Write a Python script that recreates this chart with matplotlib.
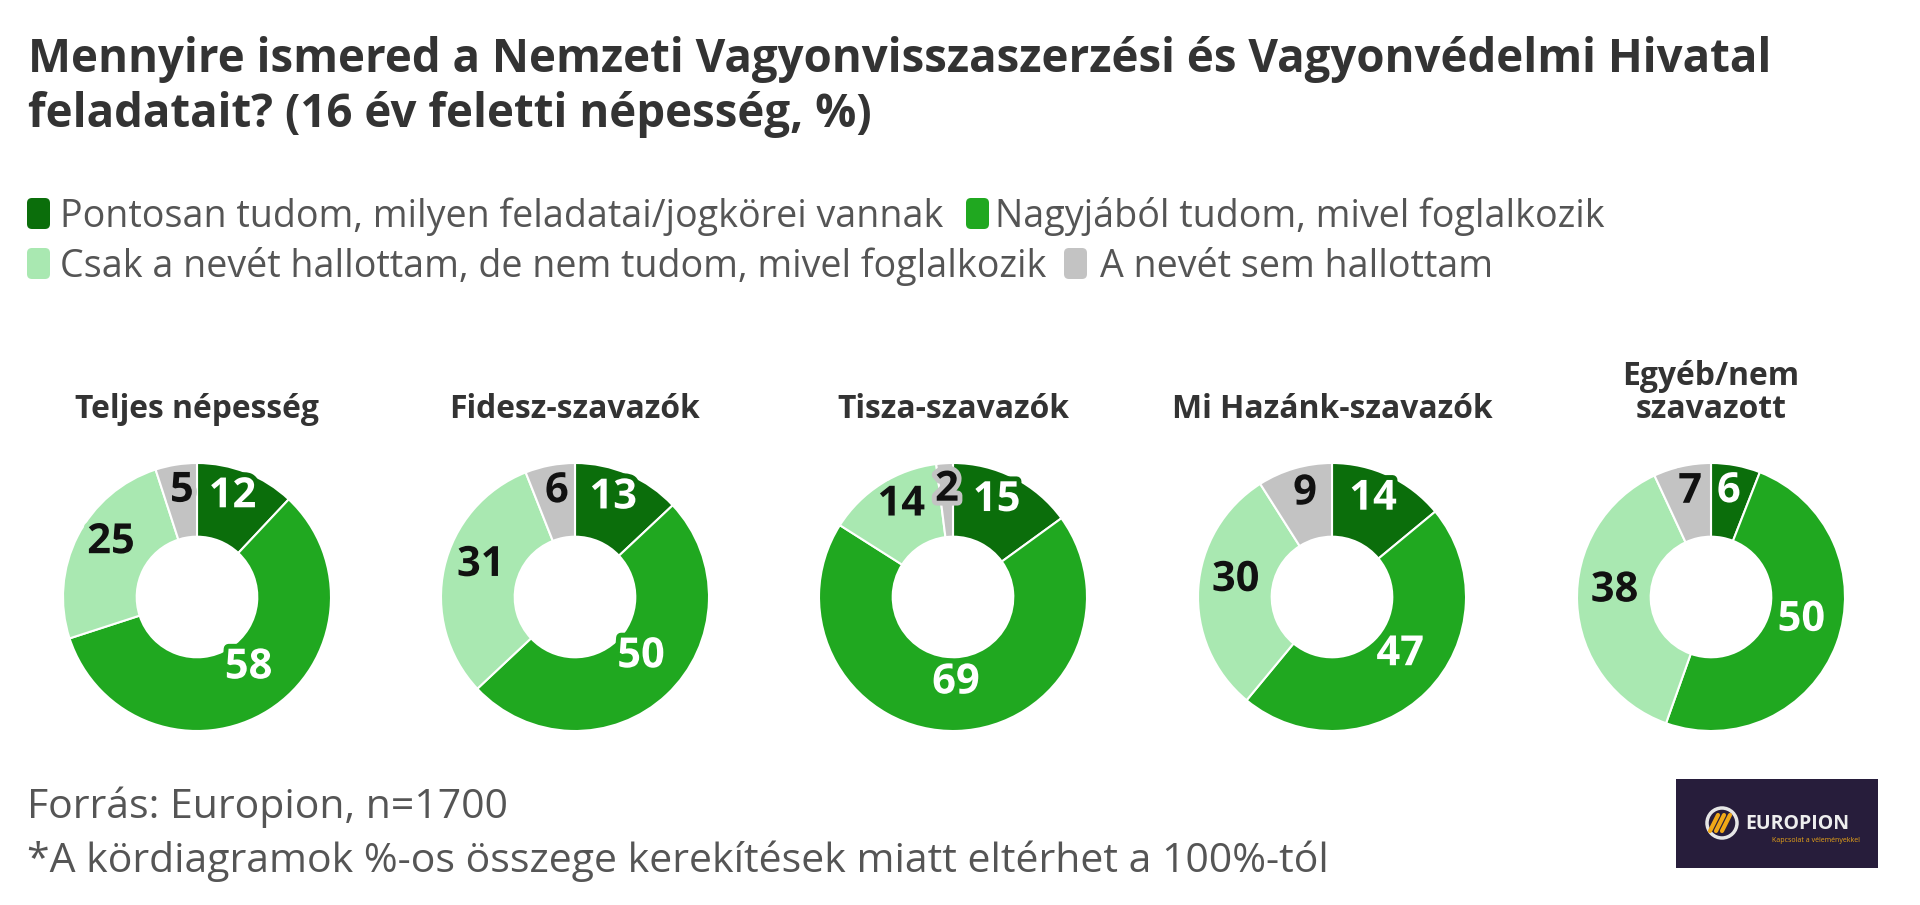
import matplotlib
matplotlib.use("Agg")
import numpy as np
import matplotlib.pyplot as plt
import matplotlib.patheffects as pe
from matplotlib.patches import FancyBboxPatch, Circle, Rectangle

# data
groups = ["Teljes népesség", "Fidesz-szavazók", "Tisza-szavazók",
          "Mi Hazánk-szavazók", "Egyéb/nem\nszavazott"]
categories = ["Pontosan tudom, milyen feladatai/jogkörei vannak",
              "Nagyjából tudom, mivel foglalkozik",
              "Csak a nevét hallottam, de nem tudom, mivel foglalkozik",
              "A nevét sem hallottam"]
pontosan = [12, 13, 15, 14, 6]
nagyjabol = [58, 50, 69, 47, 50]
csak_nevet = [25, 31, 14, 30, 38]
nem_hallotta = [5, 6, 2, 9, 7]

colors = ["#0b6e0b", "#20a820", "#a9e8b1", "#c3c3c3"]
label_colors = ["white", "white", "#111111", "#111111"]

title1 = "Mennyire ismered a Nemzeti Vagyonvisszaszerzési és Vagyonvédelmi Hivatal"
title2 = "feladatait? (16 év feletti népesség, %)"
source = "Forrás: Europion, n=1700"
note = "*A kördiagramok %-os összege kerekítések miatt eltérhet a 100%-tól"

W, H = 1920, 905
plt.rcParams["font.family"] = ["Open Sans", "DejaVu Sans"]

fig = plt.figure(figsize=(W / 100, H / 100), dpi=100)
fig.patch.set_facecolor("white")
ax0 = fig.add_axes([0, 0, 1, 1])
ax0.set_xlim(0, W)
ax0.set_ylim(H, 0)
ax0.axis("off")
renderer = fig.canvas.get_renderer()


def fit_width(t, target):
    w = t.get_window_extent(renderer=renderer).width
    t.set_fontsize(t.get_fontsize() * target / w)
    return t.get_fontsize()


# title
t1 = ax0.text(28, 72, title1, fontsize=30, fontweight="bold", color="#333333", va="baseline")
fs = fit_width(t1, 1744)
ax0.text(28, 127, title2, fontsize=fs, fontweight="bold", color="#333333", va="baseline")

# legend
leg_items = [(27, 60, 227), (966, 995, 227), (27, 60, 277), (1064, 1100, 277)]
leg_fs = None
for i, (mx, tx, by) in enumerate(leg_items):
    ax0.add_patch(FancyBboxPatch((mx + 3, by - 26), 17, 25,
                                 boxstyle="round,pad=3,rounding_size=5",
                                 fc=colors[i], ec="none"))
    t = ax0.text(tx, by, categories[i], fontsize=leg_fs or 24, color="#555555", va="baseline")
    if leg_fs is None:
        leg_fs = fit_width(t, 883)

# group titles: fit the widest one, same size for all
probe = ax0.text(0, -100, "Mi Hazánk-szavazók", fontsize=18, fontweight="bold")
sub_fs = fit_width(probe, 321)
probe.remove()

# donuts
R = 134
centers_x = [197, 575, 953, 1332, 1711]
cy = 597
for g in range(len(groups)):
    cx = centers_x[g]
    vals = [pontosan[g], nagyjabol[g], csak_nevet[g], nem_hallotta[g]]
    ax = fig.add_axes([(cx - R) / W, (H - cy - R) / H, 2 * R / W, 2 * R / H])
    wedges, _ = ax.pie(vals, colors=colors, startangle=90, counterclock=False,
                       radius=1, wedgeprops=dict(width=0.55, edgecolor="white", linewidth=1.5))
    ax.set_xlim(-1, 1)
    ax.set_ylim(-1, 1)
    ax.axis("off")
    for k, w in enumerate(wedges):
        ang = np.deg2rad((w.theta1 + w.theta2) / 2)
        x, y = 0.72 * np.cos(ang), 0.72 * np.sin(ang)
        ax.text(x, y, str(vals[k]), ha="center", va="baseline", fontsize=30,
                fontweight="bold", color=label_colors[k], clip_on=False,
                path_effects=[pe.withStroke(linewidth=7, foreground=colors[k])])
    lines = groups[g].split("\n")
    for j, line in enumerate(reversed(lines)):
        ax0.text(cx, 418 - j * 33, line, ha="center", va="baseline",
                 fontsize=sub_fs, fontweight="bold", color="#333333")

# footer
tn = ax0.text(27, 872, note, fontsize=24, color="#555555", va="baseline")
ffs = fit_width(tn, 1304)
ax0.text(27, 818, source, fontsize=ffs, color="#555555", va="baseline")

# logo
ax0.add_patch(Rectangle((1676, 779), 202, 89, fc="#271d3b", ec="none"))
ax0.add_patch(Circle((1722, 823), 15, fc="none", ec="#e6e6e6", lw=2.5))
for dx in (-6, 0, 6):
    ax0.plot([1716 + dx, 1724 + dx], [831, 815], color="#f0a818", lw=3, solid_capstyle="round")
ax0.text(1745, 824, "EUROPION", fontsize=14, fontweight="bold", color="#eeeeee", va="center")
ax0.text(1772, 840, "Kapcsolat a véleményekkel", fontsize=5, color="#e8a317", va="center")

fig.savefig("out.png", dpi=100, facecolor="white")
